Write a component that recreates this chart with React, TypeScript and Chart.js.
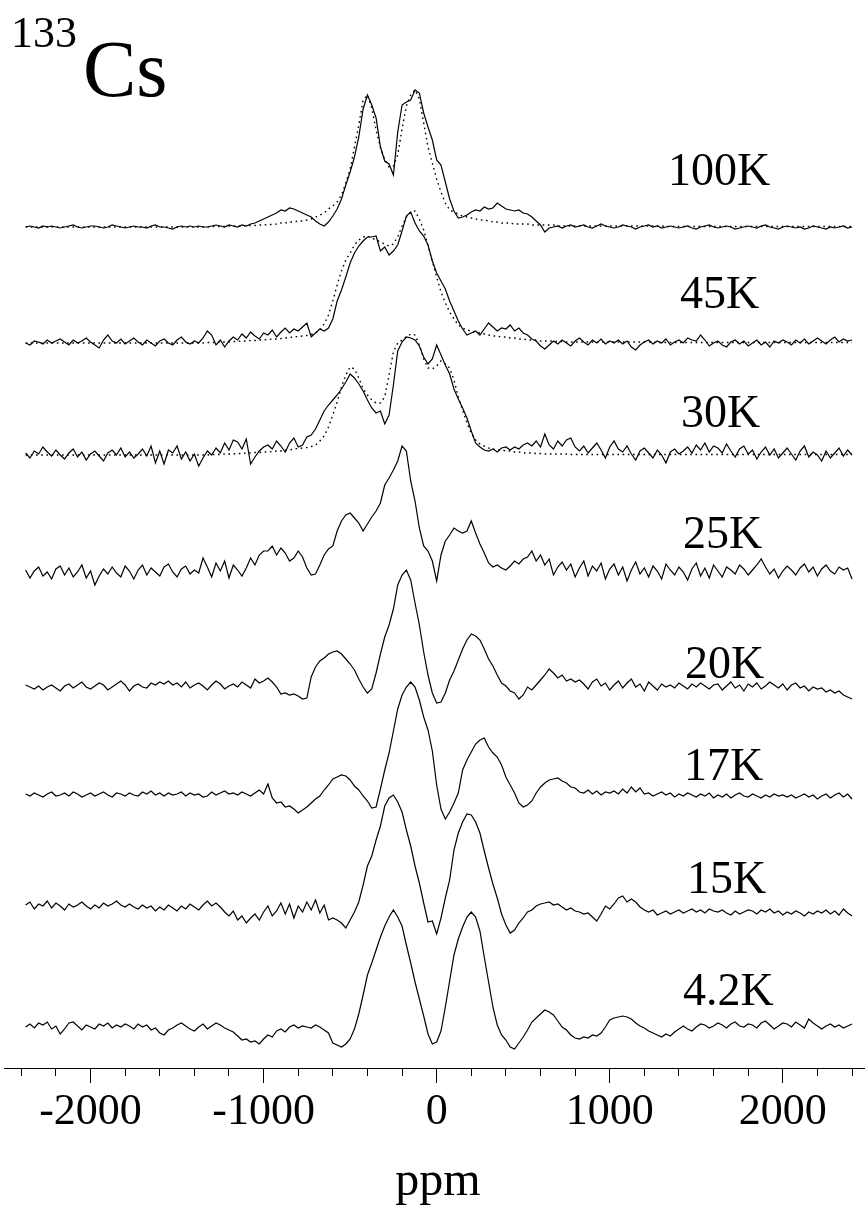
import React, { useEffect, useRef } from 'react';
import { Chart, registerables } from 'chart.js';

Chart.register(...registerables);

// ---- sampling axis (ppm), 25 ppm step ----
const PPM_START = -2375;
const PPM_STEP = 25;
const PPM: number[] = Array.from({ length: 192 }, (_, i) => PPM_START + PPM_STEP * i);

// ---- axis ----
const X_MIN = -2500;
const X_MAX = 2475;
const MINOR_TICKS = [
  -2400, -2200, -2000, -1800, -1600, -1400, -1200, -1000, -800, -600, -400, -200, 0,
  200, 400, 600, 800, 1000, 1200, 1400, 1600, 1800, 2000, 2200, 2400,
];
const MAJOR_TICKS = [-2000, -1000, 0, 1000, 2000];

// ---- trace labels & vertical offsets (stack baselines) ----
const TEMPS = ['100K', '45K', '30K', '25K', '20K', '17K', '15K', '4.2K'];
const OFFSETS = [841, 725, 613, 495, 381, 273, 160, 41];

// ---- measured spectra (intensity above baseline), rows of 8 points = 200 ppm ----
const S100 = [
  0, 1, 0, -1, 1, 0, 1, 0,
  -1, 0, 1, 2, 0, -1, 0, 1,
  1, 0, -1, 0, 2, 1, 0, -1,
  0, 1, 0, 0, -1, 1, 2, 0,
  0, -1, -2, 0, 1, 0, 1, 0,
  1, 0, 0, 1, 2, 1, 0, 2,
  1, 0, 2, 1, 3, 4, 6, 8,
  10, 12, 14, 17, 16, 19, 18, 16,
  14, 12, 10, 6, 3, 1, 5, 11,
  18, 28, 42, 55, 70, 90, 118, 132,
  122, 109, 80, 66, 63, 52, 95, 122,
  125, 127, 137, 134, 114, 100, 87, 67,
  62, 45, 28, 16, 9, 10, 12, 15,
  17, 16, 20, 18, 19, 24, 21, 18,
  17, 16, 17, 14, 13, 10, 6, 2,
  -5, -1, 0, 1, -1, 1, 2, 0,
  1, 2, 0, -1, 1, 3, 1, 0,
  -1, 0, 2, 1, 0, -2, 0, 1,
  2, 0, 1, -1, 0, 1, 0, -1,
  0, 1, -1, -2, 0, 1, 2, 0,
  -1, 0, 1, 0, -2, -1, 0, 1,
  0, -1, 1, 2, 0, -1, -2, 0,
  1, 0, -1, 0, -2, -1, 1, 0,
  -1, -2, 0, -1, 0, 1, -1, 0,
];

const S45 = [
  0, -2, 2, 1, -1, 3, 0, 2,
  4, 1, -2, 3, 0, 2, 5, 1,
  -2, -5, 3, 8, 2, 0, 4, -1,
  2, 5, 1, -2, 3, 0, -3, 2,
  4, 0, -2, 3, 6, 1, -1, 2,
  0, 5, 12, 8, -2, 3, -4, 2,
  6, 3, 9, 5, 11, 7, 4, 10,
  8, 13, 6, 11, 15, 10, 14, 12,
  16, 20, 6, 10, 14, 12, 15, 24,
  42, 53, 66, 80, 90, 97, 102, 106,
  106, 107, 92, 96, 88, 92, 98, 112,
  127, 131, 120, 112, 107, 98, 82, 70,
  62, 54, 42, 32, 22, 14, 8, 10,
  12, 8, 14, 20, 16, 12, 15, 14,
  18, 12, 15, 10, 8, 4, 2, -3,
  -6, -2, 2, -1, 3, 0, -3, 2,
  5, 1, -2, 3, 0, 4, -1, 2,
  0, 3, -1, 2, -4, -7, -2, 1,
  3, -1, 2, 0, 4, -2, 1, 3,
  0, 5, 3, 2, 8, 3, -3, 0,
  2, -2, -4, 1, 3, -1, 2, -3,
  0, 3, -2, 1, -4, 2, 0, 3,
  1, -2, 3, 0, 4, -1, 2, 5,
  2, -1, 3, 6, 1, 4, 2, 3,
];

const S30 = [
  2, -3, 4, 1, 8, 3, -1, 5,
  0, -4, 2, 6, -2, 3, -5, 1,
  4, -1, -6, 2, 5, 0, 7, -2,
  3, -3, 1, 6, -1, 9, -8, 4,
  -9, 5, 2, 9, -4, 3, -6, 1,
  -11, -3, 4, 0, 7, 2, 12, 5,
  15, 13, 6, 16, -9, -2, 4, 8,
  10, 6, 14, 9, 3, 12, 17, 8,
  10, 18, 20, 26, 35, 44, 50, 55,
  60, 66, 73, 81, 77, 71, 64, 55,
  47, 42, 44, 31, 40, 70, 104, 113,
  118, 117, 115, 109, 98, 91, 96, 110,
  100, 90, 81, 66, 56, 47, 37, 24,
  12, 8, 5, 4, 6, 3, 7, 8,
  5, 8, 6, 10, 12, 9, 14, 8,
  21, 10, 6, 14, 9, 15, 17, 8,
  4, 9, 2, 7, 12, 5, -3, 8,
  14, 6, 3, 9, 1, -5, 4, 7,
  2, -3, 5, 0, -8, 3, 6, 1,
  4, 8, 2, 10, 5, 12, 3, 9,
  7, 2, 11, 4, -2, 6, 9, 1,
  5, -4, 3, 8, 0, 6, -3, 2,
  7, 1, -5, 4, 9, -2, 3, 0,
  -6, 4, -3, 2, 7, -1, 5, 0,
];

const S25 = [
  3, -5, 2, 6, -3, 1, -6, 4,
  7, -2, 5, -4, 1, 8, -5, 2,
  -12, -3, 4, -1, 6, 0, -4, 7,
  2, -6, 3, 8, -2, 5, 1, -3,
  6, 9, 1, -4, 4, 7, -1, 3,
  0, 15, 6, -4, 10, 2, 12, -5,
  8, 3, -3, 5, 15, 8, 18, 22,
  22, 27, 18, 25, 20, 12, 15, 22,
  16, 5, -2, -1, 8, 18, 24, 27,
  42, 52, 58, 60, 55, 50, 42, 49,
  56, 62, 70, 88, 95, 103, 112, 127,
  122, 92, 72, 45, 27, 22, 12, -8,
  18, 32, 38, 45, 42, 40, 42, 52,
  40, 29, 20, 10, 6, 8, 5, 3,
  7, 12, 9, 14, 16, 22, 12, 18,
  8, 14, -2, 6, 11, 3, 9, -4,
  5, 12, -3, 7, 2, 10, -6, 4,
  9, -2, 6, -8, 3, 11, -1, 5,
  -4, 7, 2, -6, 9, 3, -2, 6,
  1, -7, 4, 10, -3, 5, -5, 8,
  2, -4, 6, 3, -1, 8, 4, -2,
  3, 8, 14, 6, -1, 4, -5, 2,
  7, 3, -2, 5, 9, 1, 6, -3,
  4, 8, 2, -1, 6, 3, 5, -6,
];

const S20 = [
  2, 0, -2, 1, -3, 0, 2, -1,
  -4, 1, 3, -1, 2, 5, 0, -2,
  1, 4, 2, -3, 0, 3, 6, 2,
  -4, 1, 3, 0, -1, 4, 2, 5,
  3, 6, 2, 4, 0, 5, -1, 2,
  4, 1, -3, 2, 6, 3, -2, 1,
  3, 0, 5, 2, -1, 8, 4, 6,
  9, 5, 0, -7, -6, -8, -7, -9,
  -12, -11, 10, 20, 26, 29, 33, 35,
  36, 33, 28, 23, 17, 8, 0, -6,
  -2, 14, 33, 50, 62, 78, 102, 112,
  117, 107, 84, 62, 35, 12, -6, -16,
  -15, -6, 7, 16, 27, 38, 47, 53,
  51, 47, 38, 28, 21, 12, 4, 1,
  -4, -6, -12, -8, 0, -3, 2, 7,
  12, 18, 14, 9, 12, 6, 8, 5,
  7, 3, -2, 5, 8, 1, 4, -3,
  2, 6, -1, 4, 8, 0, 3, -4,
  5, 1, -3, 3, 0, 2, -1, 4,
  1, -2, 3, 0, 4, 1, -2, 2,
  3, -3, 1, 5, -1, 2, -4, 3,
  0, 4, -2, 1, 5, 2, -1, 3,
  -3, 2, 4, -1, 1, -4, 0, -2,
  -1, -5, -3, -6, -4, -8, -10, -12,
];

const S17 = [
  1, -1, 2, 0, -2, 1, 3, -1,
  0, 2, -1, 3, 1, -2, 0, 2,
  -1, 1, 3, 0, -2, 2, 1, -1,
  2, 0, -1, 3, 1, 4, 0, 2,
  -1, 2, 0, 1, 3, -1, 2, 0,
  1, -2, -1, 3, 0, 2, 4, 1,
  2, 0, 3, 1, -1, 2, 5, 1,
  11, -3, -8, -7, -12, -11, -14, -18,
  -15, -12, -8, -4, -1, 5, 10, 16,
  18, 20, 19, 15, 9, 5, -1, -6,
  -13, -12, 6, 25, 42, 64, 86, 100,
  108, 113, 108, 95, 78, 65, 44, 10,
  -14, -24, -17, -8, 2, 25, 35, 43,
  51, 55, 57, 48, 42, 38, 30, 18,
  10, 2, -8, -12, -10, -6, 2, 8,
  12, 15, 16, 17, 14, 12, 8, 7,
  3, 2, 5, 1, 4, 0, 3, 2,
  4, 1, 6, 2, 8, 3, 7, 1,
  2, -1, 1, 3, 0, 2, -2, 1,
  -1, 2, 0, -2, 1, -1, 2, -3,
  0, -2, 1, -3, 0, 2, -1, -2,
  1, -1, -3, 0, -2, 1, -1, 0,
  -2, 0, -3, -1, 1, -2, 0, -4,
  -1, 1, -3, 0, 2, -2, 1, -4,
];

const S15 = [
  3, 6, -1, 4, 2, 7, 0, 5,
  2, -2, 4, 1, 3, 6, 2, -1,
  3, 0, 5, 2, 4, 7, 3, 1,
  4, 1, -1, 3, 0, 2, -3, 1,
  -2, 3, 0, -3, 2, -1, 4, 1,
  -2, 3, 7, 2, 5, 1, -4, -8,
  -3, -12, -8, -15, -10, -6, -12, -4,
  2, -8, -3, 5, -6, 4, -10, 2,
  -4, 6, -2, 8, -5, 3, -12, -10,
  -12, -15, -20, -12, -4, 6, 23, 42,
  52, 68, 82, 102, 110, 113, 106, 96,
  78, 62, 42, 25, 5, -14, -13, -26,
  -10, 10, 28, 58, 75, 86, 94, 93,
  86, 75, 57, 40, 24, 10, -6, -17,
  -25, -22, -15, -10, -4, -2, 2, 4,
  5, 6, 3, 4, 1, -2, 0, -3,
  -4, -6, -5, -9, -13, -6, 2, -1,
  4, 10, 12, 6, 9, 6, 1, -2,
  -4, -2, -7, -5, -3, -6, -4, -2,
  -5, -3, -1, -4, -2, -5, -1, -3,
  -4, -2, -5, -7, -3, -6, -4, -2,
  -3, -6, -2, -4, -1, -5, -3, -7,
  -4, -6, -3, -5, -8, -4, -6, -3,
  -5, -2, -6, -3, -7, -1, -5, -8,
];

const S4 = [
  0, 3, -1, 4, 2, 5, -2, 1,
  -7, -2, 4, 5, 1, -3, 2, 0,
  -2, 3, 1, 4, -1, 2, 0, 3,
  1, -2, 3, 0, 2, -3, -1, -6,
  -8, -3, -1, 2, 4, 1, -2, -4,
  0, 3, -2, 1, 4, 2, -1, -3,
  -5, -9, -13, -12, -15, -14, -17, -12,
  -8, -10, -4, -2, -5, 0, 2, -1,
  1, 0, -1, 2, 0, -3, -6, -16,
  -18, -20, -17, -12, -2, 13, 32, 52,
  64, 77, 90, 101, 110, 117, 110, 101,
  82, 64, 45, 28, 11, -7, -17, -15,
  -4, 20, 46, 72, 88, 100, 110, 115,
  110, 96, 70, 45, 20, 2, -8, -13,
  -20, -22, -16, -10, -3, 5, 9, 13,
  17, 15, 12, 6, 0, -3, -8, -11,
  -12, -10, -11, -8, -9, -6, 0, 7,
  9, 10, 11, 10, 8, 4, 1, -1,
  -4, -6, -8, -10, -7, -9, -5, -2,
  1, -2, -4, 0, 3, 2, -1, 1,
  4, 2, -1, 3, 5, 1, 0, 3,
  2, -1, 4, 6, 2, -2, 1, 4,
  3, 0, 5, 2, -1, 8, 4, 1,
  -2, 1, 3, 0, 2, -1, 1, 3,
];

// ---- dotted simulated line shapes (100K, 45K, 30K) ----
const FIT100 = [
  0, 0, 0, 0, 0, 0, 0, 0,
  0, 0, 0, 0, 0, 0, 0, 0,
  0, 0, 0, 0, 0, 0, 0, 0,
  0, 0, 0, 0, 0, 0, 0, 0,
  0, 0, 0, 0, 0, 0, 0, 0,
  0, 0, 0, 0.5, 0.5, 0.5, 0.5, 1,
  1, 1, 1, 1.5, 1.5, 1.5, 2, 2,
  2.5, 2.5, 3, 4, 4, 5, 5, 6,
  6, 7, 8, 10, 12, 14, 18, 21,
  25, 32, 44, 58, 80, 102, 127, 132,
  119, 97, 80, 67, 60, 61, 72, 98,
  121, 132, 137, 128, 104, 80, 64, 48,
  35, 24, 17, 15, 13, 11, 10, 9,
  8, 7, 7, 6, 5, 5, 4, 4,
  4, 3, 3, 3, 3, 2, 2, 2,
  2, 2, 2, 1, 1, 1, 1, 1,
  1, 1, 1, 1, 1, 1, 1, 1,
  1, 1, 1, 1, 1, 1, 1, 1,
  1, 1, 1, 1, 0.5, 0.5, 0.5, 0.5,
  0.5, 0.5, 0.5, 0.5, 0.5, 0.5, 0.5, 0.5,
  0.5, 0.5, 0.5, 0.5, 0.5, 0.5, 0.5, 0.5,
  0.5, 0.5, 0.5, 0.5, 0.5, 0.5, 0.5, 0.5,
  0.5, 0.5, 0.5, 0.5, 0.5, 0.5, 0.5, 0.5,
  0.5, 0.5, 0.5, 0.5, 0.5, 0.5, 0.5, 0.5,
];

const FIT45 = [
  0, 0, 0, 0, 0, 0, 0, 0,
  0, 0, 0, 0, 0, 0, 0, 0,
  0, 0, 0, 0, 0, 0, 0, 0,
  0, 0, 0, 0, 0, 0, 0, 0,
  0, 0, 0, 0, 0, 0, 0, 0,
  0, 0, 0.5, 0.5, 0.5, 1, 1, 1,
  1.5, 1.5, 2, 2, 2.5, 2.5, 3, 3,
  3.5, 4, 4, 4.5, 5, 5.5, 6, 6.5,
  7, 7.5, 8.5, 10, 13, 19, 28, 42,
  58, 72, 83, 90, 98, 103, 106, 107,
  105, 103, 101, 99, 97, 99, 106, 117,
  126, 131, 132, 124, 113, 97, 82, 66,
  51, 40, 31, 24, 18, 15, 13, 12,
  11, 10, 9, 8, 7, 7, 6, 6,
  5, 5, 4, 4, 3, 3, 3, 2,
  2, 2, 2, 1.5, 1.5, 1, 1, 1,
  1, 1, 1, 1, 1, 1, 1, 1,
  1, 1, 1, 1, 1, 1, 1, 1,
  1, 1, 0.5, 0.5, 0.5, 0.5, 0.5, 0.5,
  0.5, 0.5, 0.5, 0.5, 0.5, 0.5, 0.5, 0.5,
  0.5, 0.5, 0.5, 0.5, 0.5, 0.5, 0.5, 0.5,
  0.5, 0.5, 0.5, 0.5, 0.5, 0.5, 0.5, 0.5,
  0.5, 0.5, 0.5, 0.5, 0.5, 0.5, 0.5, 0.5,
  0.5, 0.5, 0.5, 0.5, 0.5, 0.5, 0.5, 0.5,
];

const FIT30 = [
  0, 0, 0, 0, 0, 0, 0, 0,
  0, 0, 0, 0, 0, 0, 0, 0,
  0, 0, 0, 0, 0, 0, 0, 0,
  0, 0, 0, 0, 0, 0, 0, 0,
  0, 0, 0, 0, 0, 0, 0, 0,
  0, 0, 0, 0.5, 0.5, 0.5, 1, 1,
  1, 1.5, 1.5, 2, 2, 2.5, 2.5, 3,
  3, 3.5, 4, 4, 5, 5, 6, 6.5,
  7, 7.5, 8.5, 10, 14, 19, 28, 40,
  53, 68, 80, 88, 86, 77, 66, 60,
  55, 52, 52, 58, 80, 103, 112, 115,
  118, 121, 120, 110, 96, 87, 86, 89,
  94, 91, 87, 75, 58, 45, 32, 22,
  15, 11, 9, 7, 6, 5, 5, 4,
  4, 3, 3, 2, 2, 2, 1.5, 1.5,
  1, 1, 1, 1, 1, 1, 0.5, 0.5,
  0.5, 0.5, 0.5, 0.5, 0.5, 0.5, 0.5, 0.5,
  0.5, 0.5, 0.5, 0.5, 0.5, 0.5, 0.5, 0.5,
  0.5, 0.5, 0.5, 0.5, 0.5, 0.5, 0.5, 0.5,
  0.5, 0.5, 0.5, 0.5, 0.5, 0.5, 0.5, 0.5,
  0.5, 0.5, 0.5, 0.5, 0.5, 0.5, 0.5, 0.5,
  0.5, 0.5, 0.5, 0.5, 0.5, 0.5, 0.5, 0.5,
  0.5, 0.5, 0.5, 0.5, 0.5, 0.5, 0.5, 0.5,
  0.5, 0.5, 0.5, 0.5, 0.5, 0.5, 0.5, 0.5,
];

const SPECTRA = [S100, S45, S30, S25, S20, S17, S15, S4];
const FITS: Array<[number, number[]]> = [
  [0, FIT100],
  [1, FIT45],
  [2, FIT30],
];

const FONT = '"Liberation Serif", "Times New Roman", Times, serif';

function buildDatasets() {
  const sets: any[] = [];
  FITS.forEach(([k, vals]) => {
    sets.push({
      label: TEMPS[k] + ' fit',
      data: PPM.map((x, i) => ({ x, y: OFFSETS[k] + vals[i] })),
      borderColor: '#000',
      borderWidth: 1.4,
      borderDash: [1.6, 3.6],
      pointRadius: 0,
      tension: 0,
      fill: false,
    });
  });
  SPECTRA.forEach((vals, k) => {
    sets.push({
      label: TEMPS[k],
      data: PPM.map((x, i) => ({ x, y: OFFSETS[k] + vals[i] })),
      borderColor: '#000',
      borderWidth: 1.2,
      pointRadius: 0,
      tension: 0,
      fill: false,
    });
  });
  return sets;
}

const LABEL_STYLE = (left: number, top: number, size: number): React.CSSProperties => ({
  position: 'absolute',
  left,
  top,
  fontSize: size,
  lineHeight: `${size}px`,
  whiteSpace: 'nowrap',
  margin: 0,
  padding: 0,
});

const TEMP_LABEL_POS: Array<[number, number]> = [
  [668, 146.5],
  [680, 269.5],
  [681, 388.5],
  [683, 509.5],
  [685, 639.5],
  [684, 741.5],
  [687, 854.5],
  [683, 966.5],
];

export default function App() {
  const ref = useRef<HTMLCanvasElement | null>(null);

  useEffect(() => {
    if (!ref.current) return;
    const chart = new Chart(ref.current, {
      type: 'line',
      data: { datasets: buildDatasets() },
      options: {
        responsive: false,
        animation: false,
        events: [],
        layout: { padding: { left: 4, right: 0, top: 0, bottom: 141 } },
        plugins: {
          legend: { display: false },
          tooltip: { enabled: false },
          title: { display: false },
        },
        scales: {
          x: {
            type: 'linear',
            axis: 'x',
            min: X_MIN,
            max: X_MAX,
            position: { y: 0 } as any,
            afterBuildTicks: (scale: any) => {
              scale.ticks = MINOR_TICKS.map((v) => ({ value: v }));
            },
            ticks: {
              display: false,
              autoSkip: false,
            },
            grid: {
              display: true,
              drawOnChartArea: false,
              drawTicks: true,
              tickLength: 7,
              color: '#000',
              tickWidth: 1,
            },
            border: { display: true, color: '#000', width: 1 },
          },
          xMajor: {
            type: 'linear',
            axis: 'x',
            min: X_MIN,
            max: X_MAX,
            position: { y: 0 } as any,
            afterBuildTicks: (scale: any) => {
              scale.ticks = MAJOR_TICKS.map((v) => ({ value: v }));
            },
            ticks: {
              autoSkip: false,
              maxRotation: 0,
              minRotation: 0,
              padding: 3,
              color: '#000',
              font: { family: FONT, size: 44 },
              callback: (v: any) => String(v),
            },
            grid: {
              display: true,
              drawOnChartArea: false,
              drawTicks: true,
              tickLength: 15,
              color: '#000',
              tickWidth: 1,
            },
            border: { display: false },
          },
          y: {
            type: 'linear',
            min: 0,
            max: 1068,
            display: false,
          },
        },
      },
    } as any);
    return () => chart.destroy();
  }, []);

  return (
    <div
      style={{
        position: 'absolute',
        left: 0,
        top: 0,
        width: 865,
        height: 1209,
        overflow: 'hidden',
        background: '#fff',
        color: '#000',
        fontFamily: FONT,
      }}
    >
      <canvas
        ref={ref}
        width={865}
        height={1209}
        style={{ position: 'absolute', left: 0, top: 0, width: 865, height: 1209 }}
      />
      <span style={LABEL_STYLE(11, 11, 44)}>133</span>
      <span style={LABEL_STYLE(83, 29, 80)}>Cs</span>
      {TEMPS.map((t, k) => (
        <span key={t} style={LABEL_STYLE(TEMP_LABEL_POS[k][0], TEMP_LABEL_POS[k][1], 46)}>
          {t}
        </span>
      ))}
      <span
        style={{
          ...LABEL_STYLE(438, 1155, 48),
          transform: 'translateX(-50%)',
        }}
      >
        ppm
      </span>
    </div>
  );
}
